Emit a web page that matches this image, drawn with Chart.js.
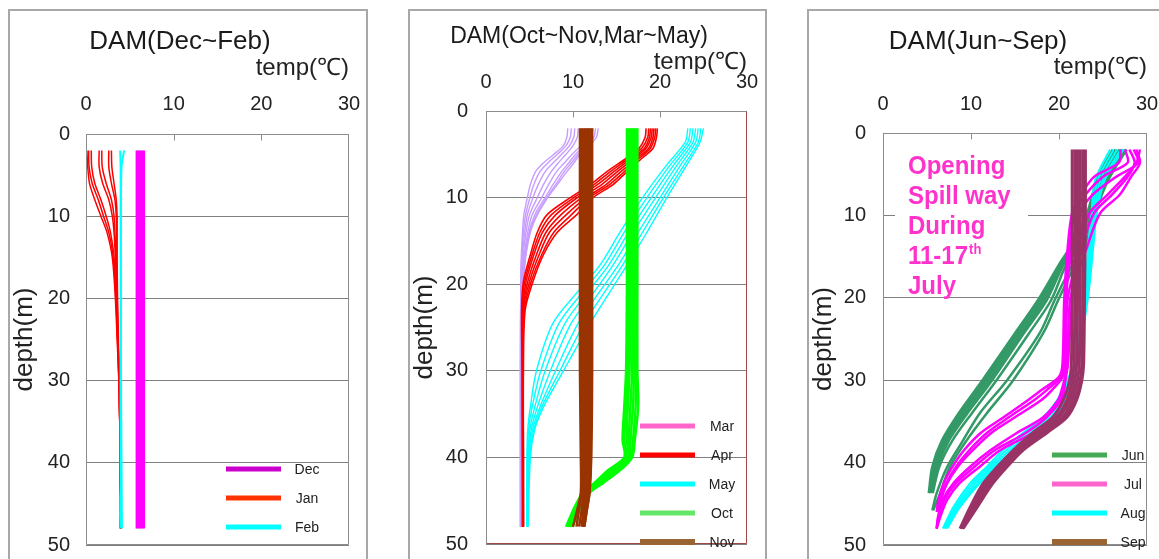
<!DOCTYPE html>
<html><head><meta charset="utf-8">
<script src="https://cdn.jsdelivr.net/npm/chart.js@4.4.0/dist/chart.umd.min.js"></script>
<style>
html,body{margin:0;padding:0;background:#fff;width:1159px;height:559px;overflow:hidden;position:relative;}
.frame{position:absolute;border:2px solid #a8a8a8;box-sizing:border-box;}
.box{position:absolute;}
</style></head><body>
<div class="frame" style="left:8px;top:9px;width:360px;height:600px"></div>
<div class="frame" style="left:408px;top:9px;width:359px;height:600px"></div>
<div class="frame" style="left:807px;top:9px;width:400px;height:600px"></div>
<div class="box" style="left:11px;top:12px;width:352px;height:547px"><canvas id="c1"></canvas></div>
<div class="box" style="left:411px;top:12px;width:352px;height:547px"><canvas id="c2"></canvas></div>
<div class="box" style="left:809px;top:12px;width:350px;height:547px"><canvas id="c3"></canvas></div>
<script>
// ---------- Panel 1: DAM(Dec~Feb) ----------
const DEPTH_DEC = [2, 48];
const DEC = [[5.8,5.8],[6.0,6.0],[6.2,6.2],[6.4,6.4],[6.6,6.6]];
const DEPTH_JAN = [2,4,6,8,10,12,15,20,25,30,35,40,44,48];
const JAN = [
 [0.1,0.2,0.4,1.0,1.7,2.4,3.0,3.35,3.55,3.75,3.85,3.9,3.95,3.95],
 [0.3,0.35,0.7,1.4,2.0,2.6,3.1,3.4,3.6,3.75,3.85,3.9,3.95,3.95],
 [0.6,0.65,1.0,1.7,2.3,2.8,3.2,3.45,3.6,3.75,3.85,3.9,3.95,3.95],
 [1.5,1.5,1.9,2.6,3.0,3.2,3.35,3.5,3.65,3.8,3.85,3.9,3.95,3.95],
 [1.8,1.85,2.3,2.9,3.2,3.3,3.4,3.55,3.65,3.8,3.85,3.9,3.95,3.95],
 [2.6,2.6,2.9,3.3,3.45,3.5,3.5,3.55,3.65,3.8,3.85,3.9,3.95,3.95],
 [2.9,2.95,3.2,3.45,3.55,3.55,3.55,3.6,3.7,3.8,3.85,3.9,3.95,3.95]
];
const DEPTH_FEB = [2,4,10,20,30,40,48];
const FEB = [
 [3.9,3.95,3.95,3.95,3.95,3.95,4.0],
 [4.35,4.05,4.0,4.0,4.0,4.05,4.1]
];

// ---------- Panel 2: DAM(Oct~Nov,Mar~May) ----------
const DEPTH_MAR = [2,3,4,5,6,7,8.5,10,12,14,17,20,30,48];
const MAR = [
 [9.4,9.3,8.9,7.8,6.6,5.7,5.1,4.75,4.35,4.2,4.05,4.0,3.95,3.95],
 [9.8,9.7,9.2,8.2,7.1,6.2,5.5,5.05,4.55,4.3,4.1,4.0,3.95,3.95],
 [10.2,10.1,9.6,8.7,7.7,6.8,6.0,5.4,4.75,4.45,4.15,4.05,4.0,4.0],
 [10.6,10.5,10.0,9.2,8.3,7.5,6.6,5.9,5.0,4.6,4.25,4.1,4.0,4.0],
 [11.8,11.6,10.9,9.9,9.0,8.1,7.2,6.4,5.3,4.8,4.35,4.15,4.05,4.0],
 [12.3,12.1,11.3,10.3,9.5,8.7,7.7,6.8,5.6,4.95,4.45,4.2,4.05,4.05],
 [12.6,12.4,11.6,10.6,9.8,9.0,8.0,7.0,5.8,5.05,4.5,4.25,4.05,4.05],
 [12.9,12.7,11.9,10.8,10.1,9.3,8.2,7.1,5.9,5.1,4.55,4.3,4.1,4.05]
];
const DEPTH_APR = [2,3,4.3,5.4,7,8.5,10,12,14,16.6,19.7,23,30,40,48];
const APR = [
 [18.4,18.3,17.6,16.2,13.9,12.0,9.7,7.0,5.9,5.1,4.3,4.1,4.15,4.2,4.2],
 [18.7,18.6,17.9,16.5,14.3,12.4,10.1,7.5,6.2,5.3,4.45,4.15,4.2,4.2,4.2],
 [18.9,18.8,18.2,16.8,14.7,12.8,10.5,8.0,6.5,5.5,4.6,4.2,4.2,4.2,4.25],
 [19.1,19.0,18.4,17.1,15.1,13.3,11.0,8.6,6.9,5.8,4.8,4.25,4.2,4.25,4.25],
 [19.3,19.2,18.7,17.4,15.5,13.8,11.5,9.2,7.3,6.1,5.0,4.3,4.25,4.25,4.3],
 [19.5,19.4,18.9,17.7,15.9,14.2,11.9,9.8,7.8,6.4,5.2,4.4,4.25,4.3,4.3],
 [19.7,19.6,19.2,18.0,16.2,14.6,12.3,10.4,8.2,6.6,5.4,4.5,4.3,4.3,4.3]
];
const DEPTH_MAY = [2,3.6,6.2,10,14,17.8,20.8,24.5,30,34.2,36.8,40,48];
const MAY = [
 [23.2,22.9,20.8,18.0,15.4,13.1,10.6,7.7,5.8,5.1,4.8,4.7,4.7],
 [23.5,23.2,21.2,18.5,15.9,13.6,11.2,8.4,6.3,5.3,4.9,4.75,4.7],
 [23.8,23.5,21.6,19.0,16.4,14.1,11.8,9.1,6.8,5.6,5.05,4.8,4.75],
 [24.1,23.8,22.0,19.5,16.9,14.6,12.5,9.8,7.4,5.9,5.2,4.85,4.75],
 [24.4,24.1,22.4,20.0,17.5,15.2,13.1,10.6,8.0,6.2,5.35,4.9,4.8],
 [24.7,24.4,22.8,20.4,18.0,15.7,13.7,11.3,8.5,6.4,5.5,5.0,4.8],
 [25.0,24.6,23.1,20.8,18.5,16.2,14.3,12.0,8.9,6.6,5.6,5.1,4.85]
];
const DEPTH_OCT = [2,10,20,30,34,38,40,41.5,43,44,45.7,48];
const OCT = [
 [16.2,16.2,16.2,16.1,15.9,15.7,15.9,14.0,12.4,11.2,10.2,9.2],
 [16.4,16.4,16.4,16.3,16.1,15.9,16.1,14.2,12.5,11.4,10.35,9.35],
 [16.6,16.6,16.6,16.5,16.3,16.2,16.3,14.5,12.7,11.5,10.5,9.5],
 [16.8,16.8,16.8,16.8,16.6,16.4,16.4,14.7,12.9,11.6,10.6,9.6],
 [17.0,17.0,17.0,17.0,16.9,16.6,16.5,14.9,13.0,11.8,10.7,9.75],
 [17.2,17.2,17.2,17.2,17.2,16.9,16.7,15.1,13.2,11.9,10.8,9.85],
 [17.4,17.4,17.4,17.4,17.5,17.1,16.8,15.4,13.4,12.0,10.9,9.95]
];
const DEPTH_NOV = [2,10,20,30,40,44,46,48];
const NOV = [
 [10.8,10.8,10.8,10.8,10.9,10.9,10.5,10.0],
 [11.0,11.0,11.0,11.0,11.0,11.0,10.7,10.4],
 [11.2,11.2,11.2,11.2,11.2,11.2,11.0,10.7],
 [11.4,11.4,11.4,11.4,11.4,11.3,11.2,11.0],
 [11.6,11.6,11.6,11.6,11.6,11.5,11.3,11.1],
 [11.8,11.8,11.8,11.8,11.8,11.7,11.4,11.2],
 [12.0,12.0,12.0,12.0,12.0,11.9,11.6,11.3],
 [12.2,12.2,12.2,12.2,12.1,11.9,11.6,11.3]
];

// ---------- Panel 3: DAM(Jun~Sep) ----------
const DEPTH_JUN_A = [2,5.7,9.7,13.8,15.8,20.3,24.3,30,34,37.3,40.5,43.7];
const JUN_A = [
 [26.1,24.3,23.2,21.3,20.1,17.6,15.0,11.3,8.6,6.7,5.6,5.2],
 [26.4,24.5,23.3,21.5,20.25,17.85,15.25,11.55,8.85,6.9,5.75,5.3],
 [26.6,24.7,23.4,21.7,20.4,18.1,15.5,11.8,9.1,7.1,5.9,5.35],
 [26.9,24.9,23.5,21.85,20.5,18.35,15.75,12.1,9.35,7.3,6.05,5.45],
 [27.1,25.1,23.6,22.0,20.6,18.6,16.0,12.4,9.6,7.5,6.2,5.5],
 [27.7,25.5,23.8,22.4,20.9,19.1,16.6,12.9,10.1,7.9,6.4,5.65]
];
const DEPTH_JUN_B = [2,5.7,9.7,13.8,15.8,20.3,24.3,30,34,37.3,40.5,43.7,45.8];
const JUN_B = [
 [27.3,25.3,23.9,22.6,21.6,19.5,17.8,14.1,11.0,9.1,7.3,6.1,5.6],
 [27.6,25.6,24.1,22.9,21.9,19.9,18.2,14.8,11.8,9.5,7.6,6.5,5.7]
];
const DEPTH_JUL_A = [2,3.6,5.3,7.5,9.7,13.8,20,28,29.6,31.2,32.4,34.5,36.4,38.5,40.5,42.5,44.5,46];
const JUL_A = [
 [27.0,26.8,24.0,22.5,21.5,21.0,20.6,20.4,20.0,18.0,16.5,13.7,11.1,9.2,7.9,6.9,6.3,6.1],
 [27.5,27.8,25.0,23.0,21.8,21.2,20.7,20.5,20.2,18.6,17.2,14.3,11.8,9.8,8.3,7.2,6.5,6.2],
 [28.5,29.0,26.5,23.8,22.4,21.5,20.8,20.6,20.4,19.2,18.0,15.0,12.3,10.2,8.5,7.3,6.6,6.3]
];
const DEPTH_JUL_B = [2,3.6,5.3,7.5,9.7,13.8,20,28,29.6,31.2,32.4,34.5,36.4,38.5,40.5,42.5,44.5,46.6,48];
const JUL_B = [
 [28.0,28.6,27.8,26.0,24.0,22.6,21.0,20.8,20.7,20.6,20.4,19.3,17.0,13.3,11.0,8.7,7.3,6.5,6.1],
 [28.8,29.2,28.2,26.9,24.7,23.2,21.3,21.0,20.8,20.5,20.2,18.6,16.2,12.7,10.4,8.3,7.0,6.3,6.1],
 [29.2,28.8,27.5,25.5,23.5,22.2,21.5,21.0,20.7,20.3,19.9,18.2,15.2,12.2,9.9,8.0,6.8,6.25,6.1]
];
const DEPTH_AUG = [2,5.7,9.7,13.8,19.9,28.4,30,32.4,34.5,36.4,38.5,40.5,42.5,45.4,48];
const AUG = [
 [25.8,24.1,23.7,23.3,22.9,21.6,20.9,19.8,18.2,15.9,13.6,11.8,9.9,8.0,6.8],
 [26.2,24.4,23.85,23.45,23.0,21.7,21.1,20.1,18.6,16.3,14.0,12.1,10.2,8.2,6.95],
 [26.6,24.7,24.0,23.6,23.1,21.8,21.3,20.4,19.0,16.7,14.4,12.4,10.5,8.4,7.05],
 [27.0,25.0,24.15,23.75,23.2,21.9,21.45,20.7,19.4,17.1,14.8,12.7,10.8,8.6,7.2],
 [27.3,25.2,24.3,23.9,23.3,22.0,21.6,20.9,19.8,17.5,15.2,13.0,11.0,8.75,7.3]
];
const DEPTH_SEP = [2,10,20,28,30,32.4,34.5,36.4,38.5,40.5,42.5,45.4,48];
const SEP = [
 [21.5,21.5,21.5,21.4,21.2,20.5,19.3,17.0,14.8,13.0,11.4,9.9,8.75],
 [21.8,21.8,21.8,21.7,21.5,20.9,19.7,17.4,15.1,13.3,11.7,10.1,8.85],
 [22.1,22.1,22.1,22.0,21.8,21.2,20.0,17.8,15.3,13.5,11.9,10.3,8.95],
 [22.4,22.4,22.4,22.3,22.1,21.5,20.4,18.1,15.5,13.7,12.1,10.4,9.0],
 [22.7,22.7,22.7,22.6,22.4,21.8,20.7,18.4,15.7,13.9,12.3,10.6,9.05],
 [23.0,23.0,22.9,22.8,22.6,22.0,20.9,18.6,15.9,14.1,12.5,10.7,9.1]
];

// axis ticks / labels
const TEMP_TICKS = [0, 10, 20, 30];
const DEPTH_TICKS = [0, 10, 20, 30, 40, 50];
const LEGEND1 = ['Dec', 'Jan', 'Feb'];
const LEGEND2 = ['Mar', 'Apr', 'May', 'Oct', 'Nov'];
const LEGEND3 = ['Jun', 'Jul', 'Aug', 'Sep'];
const NOTE_LINES = ['Opening', 'Spill way', 'During', '11-17', 'July'];

const FONT = "'Liberation Sans', Arial, sans-serif";

function series(depths, profiles, color, width, order) {
  return profiles.map(t => ({
    data: depths.map((d, i) => ({x: t[i], y: d})),
    borderColor: color, backgroundColor: color, borderWidth: width,
    showLine: true, pointRadius: 0, tension: 0.3, fill: false, order: order
  }));
}

const decor = {
  id: 'decor',
  beforeDatasetsDraw(chart, args, o) {
    const {ctx, chartArea: a} = chart;
    if (!o.note) return;
    const n = o.note;
    ctx.save();
    ctx.fillStyle = '#ffffff';
    ctx.fillRect(a.left + n.box[0], a.top + n.box[1], n.box[2], n.box[3]);
    ctx.fillStyle = n.color;
    ctx.textAlign = 'left'; ctx.textBaseline = 'alphabetic';
    n.lines.forEach((t, i) => {
      const bx = a.left + n.x, by = a.top + n.y0 + i * n.dy;
      ctx.save();
      ctx.translate(bx, by); ctx.scale(1, 1.1);
      ctx.font = 'bold 24px ' + FONT;
      ctx.fillText(t, 0, 0);
      if (i === n.supLine) {
        const w = ctx.measureText(t).width;
        ctx.font = 'bold 13px ' + FONT;
        ctx.fillText(n.sup, w + 1, -9);
      }
      ctx.restore();
    });
    ctx.restore();
  },
  afterDatasetsDraw(chart, args, o) {
    const {ctx, chartArea: a, scales} = chart;
    ctx.save();
    ctx.lineWidth = 1;
    const L = Math.round(a.left) + 0.5, R = Math.round(a.right) - 0.5;
    const T = Math.round(a.top) + 0.5, B = Math.round(a.bottom) - 0.5;
    const seg = (x1, y1, x2, y2, c) => { ctx.strokeStyle = c; ctx.beginPath(); ctx.moveTo(x1, y1); ctx.lineTo(x2, y2); ctx.stroke(); };
    seg(L, T, R, T, o.border.top);
    seg(L, T, L, B, o.border.left);
    seg(R, T, R, B, o.border.right);
    seg(L, B, R, B, o.border.bottom);
    TEMP_TICKS.slice(1, -1).forEach(v => {
      const px = Math.round(scales.x.getPixelForValue(v)) + 0.5;
      seg(px, T, px, T + 6, o.border.top);
    });
    const lg = o.legend;
    ctx.font = '14px ' + FONT;
    ctx.textAlign = 'center'; ctx.textBaseline = 'middle';
    lg.items.forEach((label, i) => {
      const y = a.top + lg.y0 + i * lg.dy;
      const x1 = a.left + lg.x, x2 = x1 + lg.len;
      ctx.strokeStyle = lg.colors[i]; ctx.lineWidth = lg.widths[i]; ctx.lineCap = 'butt';
      ctx.beginPath(); ctx.moveTo(x1, y); ctx.lineTo(x2, y); ctx.stroke();
      ctx.fillStyle = '#222';
      ctx.fillText(label, x2 + lg.textOff, y + 1);
    });
    ctx.restore();
  }
};

function zeroPad(s) { s.paddingLeft = 0; s.paddingRight = 0; s.paddingTop = 0; s.paddingBottom = 0; }

function makeChart(id, c) {
  return new Chart(document.getElementById(id), {
    type: 'scatter',
    data: {datasets: c.datasets},
    options: {
      responsive: true, maintainAspectRatio: false, animation: false, events: [],
      layout: {autoPadding: false, padding: {left: 0, top: 0, right: c.padR, bottom: c.padB}},
      plugins: {
        legend: {display: false}, tooltip: {enabled: false},
        title: {display: true, text: c.title, color: '#1a1a1a',
          font: {family: FONT, size: c.titleSize, weight: 'normal', lineHeight: 1},
          padding: {top: c.titleTop, bottom: 0}},
        decor: c.decor
      },
      scales: {
        x: {type: 'linear', position: 'top', min: 0, max: 30,
          afterBuildTicks: s => { s.ticks = TEMP_TICKS.map(v => ({value: v})); },
          ticks: {color: '#222', font: {family: FONT, size: 20, lineHeight: 1}, padding: c.xTickPad, maxRotation: 0},
          grid: {display: false, drawTicks: false}, border: {display: false},
          title: {display: true, text: 'temp(℃)', align: 'end', color: '#222',
            font: {family: FONT, size: 24, lineHeight: 1}, padding: {top: c.xTitlePad, bottom: 0}},
          afterFit: s => { s.height = c.xH; zeroPad(s); }},
        y: {type: 'linear', position: 'left', reverse: true, min: 0, max: 50,
          afterBuildTicks: s => { s.ticks = DEPTH_TICKS.map(v => ({value: v})); },
          ticks: {color: '#222', font: {family: FONT, size: 20, lineHeight: 1}, padding: c.yTickPad},
          grid: {color: '#808080', lineWidth: 1, drawTicks: false}, border: {display: false},
          title: {display: true, text: 'depth(m)', color: '#222',
            font: {family: FONT, size: 26, lineHeight: 1}, padding: {top: c.yTitlePad, bottom: 0}},
          afterFit: s => { s.width = c.yW; zeroPad(s); }}
      }
    },
    plugins: [decor]
  });
}

const GRAY = '#8c8c8c';

makeChart('c1', {
  title: 'DAM(Dec~Feb)', titleSize: 26, titleTop: 17,
  padR: 14, padB: 14, xH: 79, xTickPad: 20, xTitlePad: 1, yW: 75, yTickPad: 16, yTitlePad: 1,
  datasets: [
    ...series(DEPTH_JAN, JAN, '#ff0000', 1.5, 3),
    ...series(DEPTH_FEB, FEB, '#00ffff', 2, 2),
    ...series(DEPTH_DEC, DEC, '#ff00ff', 2.5, 1)
  ],
  decor: {
    border: {top: GRAY, left: GRAY, right: GRAY, bottom: GRAY},
    legend: {items: LEGEND1, colors: ['#cc00cc', '#ff3300', '#00ffff'], widths: [5, 5, 5],
      x: 140, len: 55, y0: 335, dy: 29, textOff: 26}
  }
});

makeChart('c2', {
  title: 'DAM(Oct~Nov,Mar~May)', titleSize: 23, titleTop: 13.5,
  padR: 16, padB: 15, xH: 62.5, xTickPad: 19, xTitlePad: 1.5, yW: 75, yTickPad: 18, yTitlePad: 1,
  datasets: [
    ...series(DEPTH_MAR, MAR, '#c79cff', 1.4, 5),
    ...series(DEPTH_APR, APR, '#ff0000', 1.6, 4),
    ...series(DEPTH_MAY, MAY, '#00ffff', 1.4, 3),
    ...series(DEPTH_OCT, OCT, '#00ff00', 2.5, 2),
    ...series(DEPTH_NOV, NOV, '#993300', 2.5, 1)
  ],
  decor: {
    border: {top: GRAY, left: GRAY, right: '#a04848', bottom: '#a04848'},
    legend: {items: LEGEND2, colors: ['#ff66cc', '#ff0000', '#00ffff', '#66e666', '#996633'], widths: [5, 5, 5, 5, 6],
      x: 154, len: 55, y0: 315, dy: 29, textOff: 27}
  }
});

makeChart('c3', {
  title: 'DAM(Jun~Sep)', titleSize: 26, titleTop: 17,
  padR: 12, padB: 14, xH: 78, xTickPad: 19, xTitlePad: 0, yW: 74, yTickPad: 17, yTitlePad: 2,
  datasets: [
    ...series(DEPTH_JUN_A, JUN_A, '#339966', 2.5, 4),
    ...series(DEPTH_JUN_B, JUN_B, '#339966', 2.5, 4),
    ...series(DEPTH_AUG, AUG, '#00ffff', 2, 3),
    ...series(DEPTH_JUL_A, JUL_A, '#ff00ff', 2.5, 2),
    ...series(DEPTH_JUL_B, JUL_B, '#ff00ff', 2.5, 2),
    ...series(DEPTH_SEP, SEP, '#993366', 3, 1)
  ],
  decor: {
    border: {top: GRAY, left: GRAY, right: GRAY, bottom: GRAY},
    legend: {items: LEGEND3, colors: ['#44aa55', '#ff66cc', '#00ffff', '#996633'], widths: [5, 5, 5, 6],
      x: 169, len: 55, y0: 322, dy: 29, textOff: 26},
    note: {lines: NOTE_LINES, supLine: 3, sup: 'th', color: '#ff33cc',
      x: 25, y0: 41, dy: 30, box: [12, 12, 133, 147]}
  }
});
</script>
</body></html>
